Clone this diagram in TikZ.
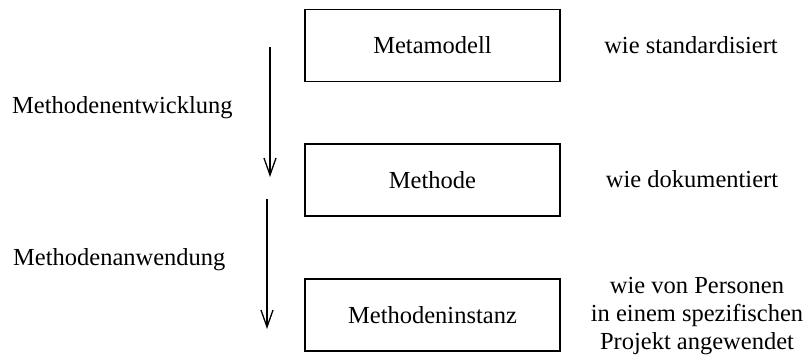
\documentclass[tikz,border=0pt]{standalone}
\usepackage{fontspec}
\setmainfont{Liberation Serif}
\usetikzlibrary{arrows.meta}
\tikzset{
  levelbox/.style={draw, line width=1.6pt, minimum width=255pt, minimum height=72pt,
    inner sep=0pt, font=\fontsize{24.5}{29}\selectfont},
  note/.style={inner sep=0pt, font=\fontsize{24.5}{28}\selectfont},
  flow/.style={line width=1.3pt, -{Straight Barb[length=17pt,width=12pt,line width=1.3pt]}}
}
\begin{document}
\begin{tikzpicture}[x=1pt,y=-1pt]
  \useasboundingbox (0,0) rectangle (806,356);
  % the three levels
  \node[levelbox] (meta) at (432.5,45.5) {Metamodell};
  \node[levelbox] (meth) at (432.5,180) {Methode};
  \node[levelbox] (inst) at (432.5,315) {Methodeninstanz};
  % descriptions on the right
  \node[note, anchor=base] (d1) at (691,53) {wie standardisiert};
  \node[note, anchor=base] (d2) at (692,187) {wie dokumentiert};
  \node[note, align=center] (d3) at (697,316) {wie von Personen\\in einem spezifischen\\Projekt angewendet};
  % process arrows and their labels
  \coordinate (a1s) at (270,47);
  \coordinate (a1e) at (270,177);
  \coordinate (a2s) at (267,199);
  \coordinate (a2e) at (267,329);
  \draw[flow] (a1s) -- (a1e);
  \draw[flow] (a2s) -- (a2e);
  \node[note, anchor=base west] (l1) at (12,113) {Methodenentwicklung};
  \node[note, anchor=base west] (l2) at (13,265) {Methodenanwendung};
\end{tikzpicture}
\end{document}
